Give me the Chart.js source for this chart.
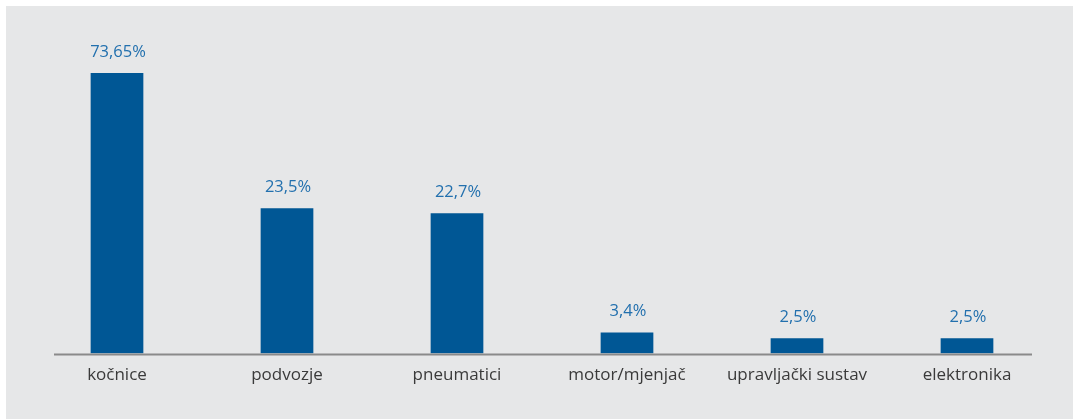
<!DOCTYPE html>
<html>
<head>
<meta charset="utf-8">
<script src="https://cdn.jsdelivr.net/npm/chart.js@4"></script>
<style>
  body { margin: 0; background: #fff; }
  #panel { position: absolute; left: 6px; top: 6px; width: 1067px; height: 413px; background: #e6e7e8; }
</style>
</head>
<body>
<div id="panel"><canvas id="chart" width="1067" height="413"></canvas></div>
<script>
// Kategorije i postoci
const categories = ["kočnice", "podvozje", "pneumatici", "motor/mjenjač", "upravljački sustav", "elektronika"];
const values = [73.65, 23.5, 22.7, 3.4, 2.5, 2.5];

// os i oznake vrijednosti iznad stupaca
const barLabels = {
    id: "barLabels",
    afterDatasetsDraw(chart) {
        const ctx = chart.ctx;
        const area = chart.chartArea;
        ctx.save();
        // linija osi
        ctx.strokeStyle = "#8a8a8a";
        ctx.lineWidth = 2;
        ctx.beginPath();
        ctx.moveTo(area.left + 22, area.bottom + 1);
        ctx.lineTo(area.right - 20, area.bottom + 1);
        ctx.stroke();

        ctx.font = "16.5px 'Open Sans'";
        ctx.fillStyle = "#2270ae";
        ctx.textAlign = "center";
        ctx.textBaseline = "middle";
        chart.getDatasetMeta(0).data.forEach((bar, i) => {
            const top = Math.max(bar.y, area.top);
            ctx.fillText(values[i].toString().replace(".", ",") + "%", bar.x + 1, top - 21);
        });
        ctx.restore();
    }
};

new Chart(document.getElementById("chart"), {
    type: "bar",
    data: {
        labels: categories,
        datasets: [{
            data: values,
            backgroundColor: "#005795",
            barPercentage: 0.31,
            categoryPercentage: 1
        }]
    },
    options: {
        responsive: false,
        animation: false,
        layout: { padding: { left: 26, right: 21, top: 67, bottom: 23 } },
        plugins: { legend: { display: false }, tooltip: { enabled: false } },
        scales: {
            x: {
                grid: { display: false, drawTicks: false },
                border: { display: false },
                ticks: { color: "#3a3a3a", font: { family: "'Open Sans'", size: 17 }, padding: 11 }
            },
            y: {
                display: false,
                min: 0,
                max: 45.4
            }
        }
    },
    plugins: [barLabels]
});
</script>
</body>
</html>
